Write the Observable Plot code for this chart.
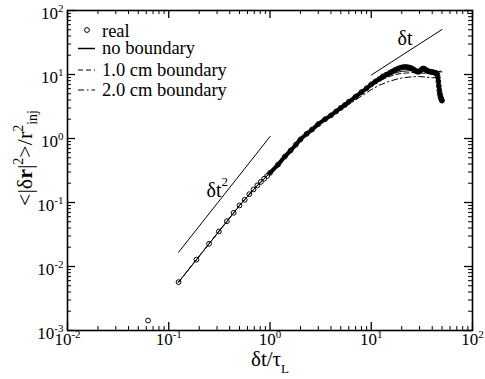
<!DOCTYPE html>
<html><head><meta charset="utf-8">
<script src="https://cdn.jsdelivr.net/npm/d3@7"></script>
<script src="https://cdn.jsdelivr.net/npm/@observablehq/plot@0.6"></script>
<style>html,body{margin:0;padding:0;background:#fff}svg{display:block}
#chart svg text, #chart svg tspan{font-family:'Liberation Serif','DejaVu Serif',serif !important}</style>
</head><body><div id="chart"></div>
<script>
// ---- data ----
const realT = [0.0625,0.125,0.1875,0.25,0.3125,0.375,0.4375,0.5,0.5625,0.625,0.6875,0.75,0.8125,0.875,0.9375,1.0,
  1.2,1.4,1.6,1.8,2.0,2.3,2.6,3.0,3.5,4.0,4.5,5.0,5.5,6,7,8,9,10,11,12,13,14,15,16,17,18,19,20,21,22,23,24,25,26,27,28,29,30,
  31,32,33,34,35,36,37,38,39,40,41,42,43,44,45,45.5,46,46.5,47,47.5,48,48.5,49,49.5,50];
const realMSD = [0.00143,0.0057,0.0128,0.0226,0.0352,0.051,0.069,0.09,0.11,0.135,0.16,0.185,0.21,0.235,0.26,0.29,
  0.39,0.52,0.65,0.8,0.97,1.18,1.38,1.68,2.0,2.3,2.65,3.0,3.35,3.75,4.5,5.3,6.1,7.0,7.8,8.5,9.3,9.9,10.5,11.1,11.7,12.2,12.6,12.9,13.1,13.1,13.0,12.8,12.5,12.1,11.6,11.2,11.0,11.2,
  11.8,12.3,12.4,12.1,11.6,11.3,11.2,11.1,11.0,10.9,10.8,10.7,10.6,10.5,10.0,9.0,7.8,6.6,5.7,5.1,4.7,4.4,4.2,4.0,3.9];

const noBoundaryT = [0.125,0.25,0.5,0.75,1,1.5,2,3,4,5,6,8,10,12,15,18,20,25,30,35,40,45,50];
const noBoundary  = [0.0057,0.0226,0.09,0.185,0.29,0.58,0.97,1.65,2.3,2.95,3.7,5.2,6.8,8.2,9.8,10.8,11.2,11.5,11.4,11.3,11.2,11.0,11.0];
const b10T = [0.125,0.25,0.5,0.75,1,1.5,2,3,4,5,6,8,10,12,15,18,20,25,30,35,40,45,48,50];
const b10  = [0.0057,0.0226,0.09,0.185,0.29,0.58,0.97,1.65,2.3,2.9,3.6,5.0,6.5,7.9,9.3,10.1,10.4,10.7,10.6,10.4,10.6,11.0,11.3,12.0];
const b20T = [0.125,0.25,0.5,0.75,1,1.5,2,3,4,5,6,8,10,12,15,18,20,25,30,35,40,45,48];
const b20  = [0.0057,0.0226,0.09,0.185,0.29,0.58,0.96,1.62,2.2,2.8,3.4,4.6,5.8,6.8,7.8,8.5,8.8,9.2,9.3,9.1,8.9,9.0,8.7];

const slope2T = [0.125, 1];
const slope2V = [0.0167, 1.07];
const slope1T = [10, 50];
const slope1V = [9.8, 50.5];

const xMajorTicks = [0.01, 0.1, 1, 10, 100];
const xTickExp = ["-2", "-1", "0", "1", "2"];
const yMajorTicks = [0.001, 0.01, 0.1, 1, 10, 100];
const yTickExp = ["-3", "-2", "-1", "0", "1", "2"];

const seriesNames = ["real", "no boundary", "1.0 cm boundary", "2.0 cm boundary"];
const annotations = [
  {x: 0.239, y: 0.121, base: "δt", sup: "2"},
  {x: 18.4, y: 28.4, base: "δt", sup: ""}
];

// ---- build ----
const W = 485, H = 379, mL = 67, mR = 13, mT = 10, mB = 49;
const fw = W - mL - mR, fh = H - mT - mB;
function minorTicks(lo, hi) { const o = []; for (let e = lo; e < hi; e++) for (let k = 2; k <= 9; k++) o.push(k * Math.pow(10, e)); return o; }
const xMinor = minorTicks(-2, 2), yMinor = minorTicks(-3, 2);

const real = realT.map((t, i) => ({t, v: realMSD[i]}));
const realBand = real.filter(d => d.t >= 1);
const toRows = (T, V) => T.map((t, i) => ({t, v: V[i]}));
const nb = toRows(noBoundaryT, noBoundary), s10 = toRows(b10T, b10), s20 = toRows(b20T, b20);
const l2 = toRows(slope2T, slope2V), l1 = toRows(slope1T, slope1V);

const MAJ = 8, MIN = 4;
const plot = Plot.plot({
  width: W, height: H, marginLeft: mL, marginRight: mR, marginTop: mT, marginBottom: mB,
  style: {fontFamily: "'Liberation Serif','DejaVu Serif',serif", fontSize: "17px", background: "#fff", color: "#000", overflow: "visible"},
  x: {type: "log", domain: [1e-2, 1e2], label: null},
  y: {type: "log", domain: [1e-3, 1e2], label: null},
  marks: [
    Plot.line(l2, {x: "t", y: "v", stroke: "black", strokeWidth: 1}),
    Plot.line(l1, {x: "t", y: "v", stroke: "black", strokeWidth: 1}),
    Plot.line(nb, {x: "t", y: "v", stroke: "black", strokeWidth: 1}),
    Plot.line(s10, {x: "t", y: "v", stroke: "black", strokeWidth: 1, strokeDasharray: "5,3"}),
    Plot.line(s20, {x: "t", y: "v", stroke: "black", strokeWidth: 1, strokeDasharray: "6,3,1.5,3"}),
    Plot.line(realBand, {x: "t", y: "v", stroke: "black", strokeWidth: 4, curve: "monotone-x"}),
    Plot.dot(real, {x: "t", y: "v", r: 2.4, stroke: "black", strokeWidth: 1, fill: "none"}),
    // ticks inward, all four sides
    Plot.tickX(xMajorTicks, {x: d => d, insetTop: fh - MAJ, stroke: "black", strokeWidth: 1.3}),
    Plot.tickX(xMajorTicks, {x: d => d, insetBottom: fh - MAJ, stroke: "black", strokeWidth: 1.3}),
    Plot.tickX(xMinor, {x: d => d, insetTop: fh - MIN, stroke: "black", strokeWidth: 1}),
    Plot.tickX(xMinor, {x: d => d, insetBottom: fh - MIN, stroke: "black", strokeWidth: 1}),
    Plot.tickY(yMajorTicks, {y: d => d, insetRight: fw - MAJ, stroke: "black", strokeWidth: 1.3}),
    Plot.tickY(yMajorTicks, {y: d => d, insetLeft: fw - MAJ, stroke: "black", strokeWidth: 1.3}),
    Plot.tickY(yMinor, {y: d => d, insetRight: fw - MIN, stroke: "black", strokeWidth: 1}),
    Plot.tickY(yMinor, {y: d => d, insetLeft: fw - MIN, stroke: "black", strokeWidth: 1}),
    Plot.axisX({ticks: xMajorTicks, tickSize: 0, tickPadding: 2, label: null, fontSize: 17,
      tickFormat: d => "10^" + xTickExp[xMajorTicks.indexOf(d)]}),
    Plot.axisY({ticks: yMajorTicks, tickSize: 0, tickPadding: 4, label: null, fontSize: 17, dy: 3,
      tickFormat: d => "10^" + yTickExp[yMajorTicks.indexOf(d)]}),
    Plot.frame({stroke: "black", strokeWidth: 1.6})
  ]
});
document.getElementById("chart").appendChild(plot);
const svg = d3.select(plot);

// superscript tick labels
svg.selectAll('g[aria-label="x-axis tick label"] text, g[aria-label="y-axis tick label"] text').each(function() {
  const s = this.textContent; if (s.indexOf("^") < 0) return;
  const [b, e] = s.split("^");
  const t = d3.select(this); t.text("");
  t.append("tspan").text(b);
  t.append("tspan").attr("dy", -7).attr("font-size", 11).text(e);
});

const sx = plot.scale("x"), sy = plot.scale("y");
// annotations via plot scales
annotations.forEach(a => {
  const t = svg.append("text").attr("x", sx.apply(a.x)).attr("y", sy.apply(a.y)).attr("text-anchor", "start")
    .attr("font-size", 20).attr("fill", "black");
  t.append("tspan").text(a.base);
  if (a.sup) t.append("tspan").attr("dy", -11).attr("font-size", 13).text(a.sup);
});

// legend
const lg = svg.append("g").attr("font-size", 18.5).attr("fill", "black").attr("text-anchor", "start");
const rowsY = [30, 48.5, 70, 90];
const baseY = [37, 54, 75.5, 95.5];
lg.append("circle").attr("cx", 87).attr("cy", rowsY[0]).attr("r", 2.4).attr("fill", "none").attr("stroke", "black");
const dashes = [null, null, "5,3", "6,3,1.5,3"];
for (let i = 1; i < 4; i++) {
  const ln = lg.append("line").attr("x1", 78).attr("x2", 95).attr("y1", rowsY[i]).attr("y2", rowsY[i]).attr("stroke", "black").attr("stroke-width", i === 1 ? 1.5 : 1);
  if (dashes[i]) ln.attr("stroke-dasharray", dashes[i]);
}
seriesNames.forEach((n, i) => lg.append("text").attr("x", 102).attr("y", baseY[i]).attr("text-anchor", "start").text(n));

// axis titles
const xt = svg.append("text").attr("x", 270).attr("y", 366).attr("text-anchor", "middle")
  .attr("font-size", 21).attr("fill", "black");
xt.append("tspan").text("δt/τ");
xt.append("tspan").attr("dy", 7).attr("font-size", 13).text("L");

const yt = svg.append("text").attr("transform", "translate(32,158) rotate(-90)").attr("text-anchor", "middle")
  .attr("font-size", 22).attr("fill", "black");
yt.append("tspan").text("<|δ");
yt.append("tspan").attr("font-weight", "bold").text("r");
yt.append("tspan").text("|");
yt.append("tspan").attr("dy", -9).attr("font-size", 14).text("2");
yt.append("tspan").attr("dy", 9).text(">/r");
yt.append("tspan").attr("dy", -9).attr("font-size", 14).text("2");
yt.append("tspan").attr("dy", 14).attr("font-size", 14).text("inj");
</script>
</body></html>
